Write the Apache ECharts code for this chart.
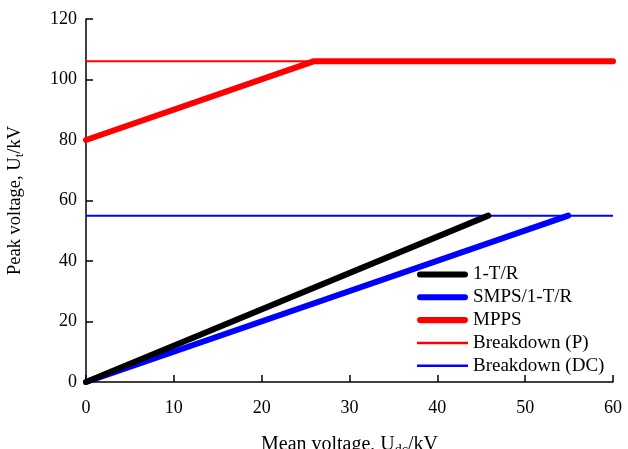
<!DOCTYPE html>
<html>
<head>
<meta charset="utf-8">
<script src="https://cdn.jsdelivr.net/npm/echarts@6/dist/echarts.min.js"></script>
<style>
  html, body { margin: 0; padding: 0; background: #fff; }
  #chart { width: 628px; height: 449px; }
</style>
</head>
<body>
<div id="chart"></div>
<script>
// data, [Mean voltage kV, Peak voltage kV]
const oneTR = [[0, 0], [45.8, 55]];
const smps = [[0, 0], [54.9, 55]];
const mpps = [[0, 80], [25.9, 106], [60, 106]];
const breakdownP = [[0, 106], [60, 106]];
const breakdownDC = [[0, 55], [60, 55]];
const legendNames = ["1-T/R", "SMPS/1-T/R", "MPPS", "Breakdown (P)", "Breakdown (DC)"];

const font = "Liberation Serif";
const thickIcon = "path://M3,0 L47,0 A3,3 0 0 1 47,6 L3,6 A3,3 0 0 1 3,0 Z";
const thinIcon = "path://M0,0 L50,0 L50,2.5 L0,2.5 Z";

const chart = echarts.init(document.getElementById("chart"));

const axisCommon = {
  axisLine: { show: true, lineStyle: { color: "#000", width: 1.5 } },
  axisTick: { show: true, inside: true, length: 7, lineStyle: { color: "#000", width: 1.5 } },
  splitLine: { show: false },
  axisLabel: { color: "#000", fontFamily: font, fontSize: 18 },
};
const subRich = { s: { fontFamily: font, fontSize: 14, color: "#000", verticalAlign: "bottom", padding: [10, 0, 0, 0] } };

const option = {
  animation: false,
  grid: { left: 86, right: 15, top: 19, bottom: 67, outerBoundsMode: "none" },
  xAxis: {
    ...axisCommon,
    type: "value",
    min: 0,
    max: 60,
    interval: 10,
    axisLabel: { ...axisCommon.axisLabel, margin: 17 },
    name: "Mean voltage, U{s|dc}/kV",
    nameLocation: "middle",
    nameGap: 51,
    nameTextStyle: { color: "#000", fontFamily: font, fontSize: 20, rich: subRich },
  },
  yAxis: {
    ...axisCommon,
    type: "value",
    min: 0,
    max: 120,
    interval: 20,
    axisLabel: { ...axisCommon.axisLabel, margin: 9 },
    name: "Peak voltage, U{s|t}/kV",
    nameLocation: "middle",
    nameGap: 60,
    nameTextStyle: {
      color: "#000", fontFamily: font, fontSize: 18.5,
      rich: { s: { ...subRich.s, fontSize: 13, padding: [9, 0, 0, 0] } },
    },
  },
  legend: {
    orient: "vertical",
    left: 412,
    top: 260,
    itemWidth: 51,
    itemHeight: 14,
    itemGap: 3.8,
    textStyle: { color: "#000", fontFamily: font, fontSize: 19 },
    data: legendNames.map((n, i) => ({ name: n, icon: i < 3 ? thickIcon : thinIcon })),
  },
  series: [
    { name: "Breakdown (P)", type: "line", data: breakdownP, symbol: "none", color: "#ff0000", lineStyle: { width: 2 }, z: 1 },
    { name: "Breakdown (DC)", type: "line", data: breakdownDC, symbol: "none", color: "#0000ff", lineStyle: { width: 2 }, z: 1 },
    { name: "1-T/R", type: "line", data: oneTR, symbol: "none", color: "#000", lineStyle: { width: 6, cap: "round" }, z: 3 },
    { name: "SMPS/1-T/R", type: "line", data: smps, symbol: "none", color: "#0000ff", lineStyle: { width: 6, cap: "round" }, z: 2 },
    { name: "MPPS", type: "line", data: mpps, symbol: "none", color: "#ff0000", lineStyle: { width: 6, cap: "round" }, z: 2 },
  ],
};

chart.setOption(option);
</script>
</body>
</html>
